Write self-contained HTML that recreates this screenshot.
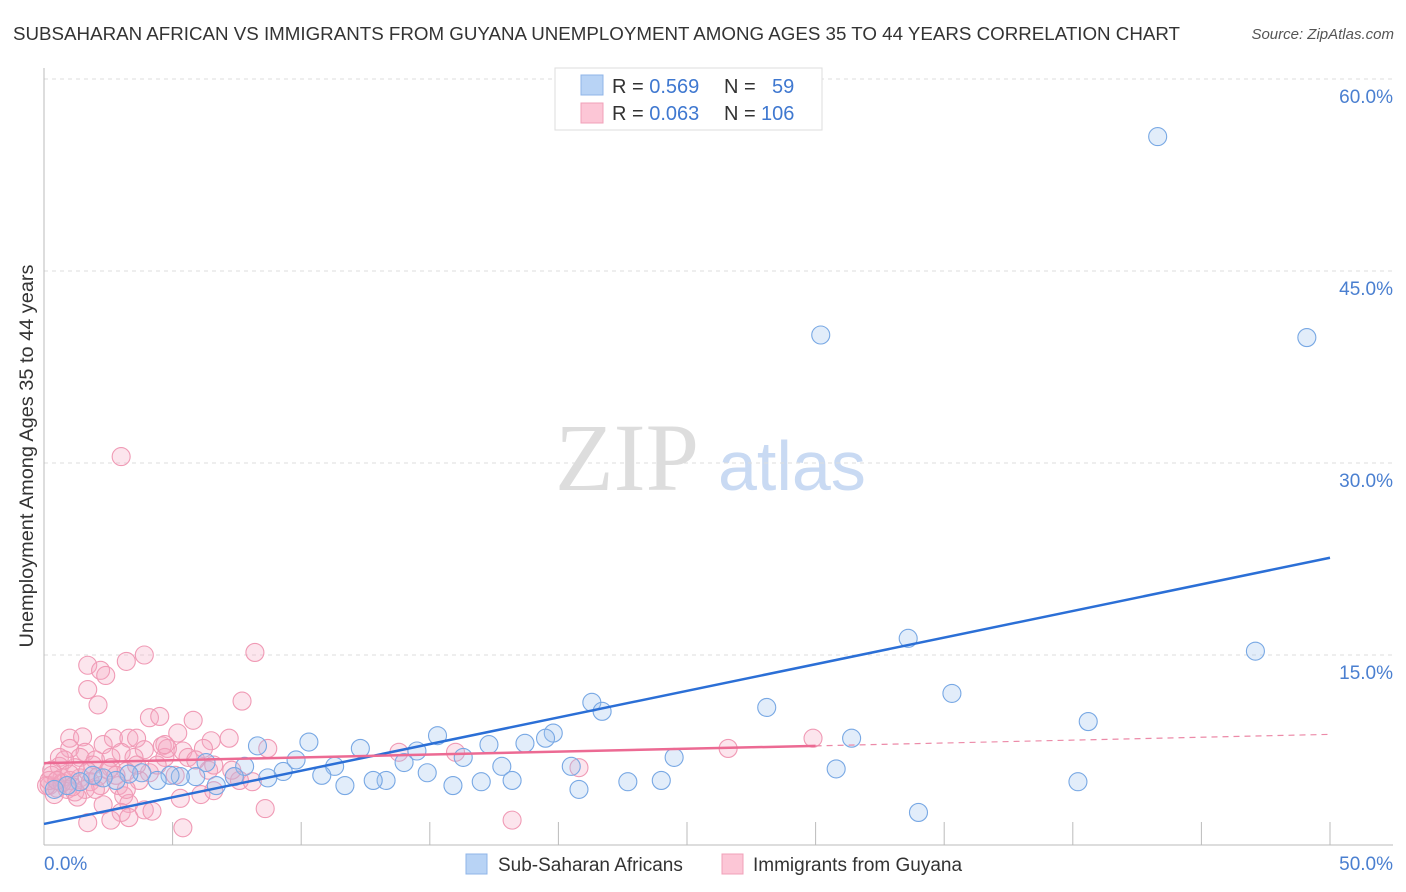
<!DOCTYPE html>
<html><head><meta charset="utf-8"><style>
body{margin:0;background:#fff;font-family:"Liberation Sans",sans-serif;}
#wrap{position:relative;width:1406px;height:892px;overflow:hidden;}
</style></head><body>
<div id="wrap">
<svg id="svg" width="1406" height="892" xmlns="http://www.w3.org/2000/svg">
<text x="13" y="40" font-size="18" fill="#333" textLength="1167" lengthAdjust="spacingAndGlyphs" font-family="Liberation Sans, sans-serif">SUBSAHARAN AFRICAN VS IMMIGRANTS FROM GUYANA UNEMPLOYMENT AMONG AGES 35 TO 44 YEARS CORRELATION CHART</text>
<text x="1394" y="39" font-size="15" fill="#555" font-style="italic" text-anchor="end">Source: ZipAtlas.com</text>
<text x="555" y="490" font-size="96" fill="#ddd" font-family="Liberation Serif, serif">ZIP</text>
<text x="718" y="490" font-size="70" fill="#c9daf3">atlas</text>
<g id="grid"></g>
<g id="pts"></g>
<g id="lines"></g>
<text transform="translate(33,456) rotate(-90)" font-size="19" fill="#333" text-anchor="middle" textLength="383" lengthAdjust="spacingAndGlyphs">Unemployment Among Ages 35 to 44 years</text>
<g>
<rect x="555" y="68" width="267" height="62" fill="#fff" stroke="#ddd"/>
<rect x="581" y="75" width="22" height="20" fill="#b8d3f5" stroke="#8fb5e8"/>
<rect x="581" y="103" width="22" height="20" fill="#fcc6d6" stroke="#f0a0b8"/>
<text x="612" y="93" font-size="20" fill="#333">R = <tspan fill="#3f78d0">0.569</tspan><tspan x="724">N =</tspan><tspan x="772" fill="#3f78d0">59</tspan></text>
<text x="612" y="120" font-size="20" fill="#333">R = <tspan fill="#3f78d0">0.063</tspan><tspan x="724">N =</tspan><tspan x="761" fill="#3f78d0">106</tspan></text>
</g>
<g>
<rect x="466" y="854" width="21" height="20" fill="#b8d3f5" stroke="#8fb5e8"/>
<text x="498" y="871" font-size="19" fill="#333">Sub-Saharan Africans</text>
<rect x="722" y="854" width="21" height="20" fill="#fcc6d6" stroke="#f0a0b8"/>
<text x="753" y="871" font-size="19" fill="#333">Immigrants from Guyana</text>
</g>
</svg>
</div>
<script>
const blueX=[43.3,30.2,49.1,33.6,47.1,35.3,28.1,40.6,21.3,21.7,31.4,30.8,34.0,40.2,24.5,24.0,22.7,20.5,20.8,19.8,19.5,18.7,17.8,18.2,17.3,17.0,15.9,16.3,15.3,14.9,14.5,14.0,13.3,12.8,12.3,11.7,11.3,10.8,10.3,9.8,9.3,8.7,8.3,7.8,7.4,6.7,6.3,5.9,5.3,4.9,4.4,3.8,3.3,2.8,2.3,1.9,1.4,0.9,0.4];
const blueY=[55.5,40.0,39.8,16.3,15.3,12.0,10.9,9.8,11.3,10.6,8.5,6.1,2.7,5.1,7.0,5.2,5.1,6.3,4.5,8.9,8.5,8.1,6.3,5.2,8.0,5.1,4.8,7.0,8.7,5.8,7.5,6.6,5.2,5.2,7.7,4.8,6.3,5.6,8.2,6.8,5.9,5.4,7.9,6.3,5.5,4.8,6.6,5.5,5.5,5.6,5.2,5.8,5.7,5.2,5.4,5.6,5.1,4.8,4.5];
const pinkX=[3.0,8.2,3.9,1.7,3.2,2.2,2.4,1.7,2.1,7.7,4.1,4.5,5.8,5.2,1.0,1.5,2.7,3.3,3.6,7.2,6.5,2.3,1.0,1.6,3.0,3.9,4.6,4.8,5.4,6.2,8.7,13.8,16.0,26.6,29.9,0.6,1.4,2.0,2.6,3.5,4.7,5.6,0.6,1.2,1.9,2.6,3.2,4.1,5.1,6.4,7.4,20.8,0.3,0.7,1.0,1.4,1.8,2.2,2.9,3.7,7.6,8.1,0.2,0.5,0.9,1.2,1.6,0.4,0.1,1.3,3.1,5.3,6.1,6.6,2.3,3.3,3.9,4.2,3.0,8.6,1.7,2.6,3.3,5.4,18.2,0.2,0.3,0.8,1.7,2.1,2.5,3.6,4.4,5.9,7.3,0.7,1.0,1.1,2.0,0.5,2.8,4.7,6.6,3.2];
const pinkY=[30.5,15.2,15.0,14.2,14.5,13.8,13.4,12.3,11.1,11.4,10.1,10.2,9.9,8.9,8.5,8.6,8.5,8.5,8.5,8.5,8.3,8.0,7.7,7.4,7.4,7.6,7.9,7.7,7.5,7.7,7.7,7.4,7.4,7.7,8.5,7.0,7.0,6.8,7.0,7.0,7.0,7.0,6.3,6.2,6.4,6.2,5.9,5.8,5.6,6.0,5.5,6.2,5.6,5.4,5.2,5.4,5.1,4.8,4.8,5.2,5.2,5.1,4.8,4.6,4.5,4.3,4.5,4.1,4.8,3.9,4.0,3.8,4.1,4.4,3.3,3.4,2.9,2.8,2.7,3.0,1.9,2.1,2.3,1.5,2.1,5.2,6.0,6.8,5.9,5.5,6.0,6.4,6.4,6.8,6.0,5.0,5.7,4.7,4.5,5.2,5.6,8.0,6.4,4.5];
const yTicks=[15,30,45,60];
const yTickLabels=["15.0%","30.0%","45.0%","60.0%"];
const xTickVals=[0,5,10,15,20,25,30,35,40,45,50];
const blueTrend=[1.8,22.6];
const pinkTrend=[6.55,8.8];
const pinkSolidEnd=30;

const NS="http://www.w3.org/2000/svg";
const xS=v=>44+v*25.72;
const yS=v=>847-v*12.8;
function mk(tag,attrs,parent){const e=document.createElementNS(NS,tag);for(const k in attrs)e.setAttribute(k,attrs[k]);parent.appendChild(e);return e;}
const grid=document.getElementById('grid');
yTicks.forEach((t,i)=>{
  const l=mk('line',{x1:44,x2:1393,y1:yS(t),y2:yS(t),stroke:'#ddd','stroke-dasharray':'4,4'},grid);
  
  
  const tx=mk('text',{x:1393,y:yS(t)+24,'font-size':19,fill:'#4a7fd0','text-anchor':'end'},grid);
  tx.textContent=yTickLabels[i];
  
  
});
const ax=mk('line',{x1:44,x2:44,y1:68,y2:845,stroke:'#bbb'},grid);


const bx=mk('line',{x1:44,x2:1393,y1:845,y2:845,stroke:'#bbb'},grid);


xTickVals.forEach(v=>{
  const t=mk('line',{x1:xS(v),x2:xS(v),y1:822,y2:845,stroke:'#bbb'},grid);
  
  
});
const xl0=mk('text',{x:44,y:870,'font-size':19,fill:'#4a7fd0'},grid);xl0.textContent='0.0%';


const xl1=mk('text',{x:1393,y:870,'font-size':19,fill:'#4a7fd0','text-anchor':'end'},grid);xl1.textContent='50.0%';


const pts=document.getElementById('pts');
pinkX.forEach((x,i)=>{
  const c=mk('circle',{cx:xS(x),cy:yS(pinkY[i]),r:9,fill:'rgba(246,170,195,0.3)',stroke:'#f09ab5','stroke-width':1.1},pts);
  
  
});
blueX.forEach((x,i)=>{
  const c=mk('circle',{cx:xS(x),cy:yS(blueY[i]),r:9,fill:'rgba(160,196,240,0.3)',stroke:'#78a8e4','stroke-width':1.1},pts);
  
  
});
const lines=document.getElementById('lines');
const bl=mk('line',{x1:xS(0),y1:yS(blueTrend[0]),x2:xS(50),y2:yS(blueTrend[1]),stroke:'#2b6fd6','stroke-width':2.5},lines);


const pm=pinkTrend[0]+(pinkTrend[1]-pinkTrend[0])*pinkSolidEnd/50;
const pl=mk('line',{x1:xS(0),y1:yS(pinkTrend[0]),x2:xS(pinkSolidEnd),y2:yS(pm),stroke:'#ec6a93','stroke-width':2.5},lines);


const pd=mk('line',{x1:xS(pinkSolidEnd),y1:yS(pm),x2:xS(50),y2:yS(pinkTrend[1]),stroke:'#ec8aa8','stroke-width':1.2,'stroke-dasharray':'6,5'},lines);


</script>
</body></html>
